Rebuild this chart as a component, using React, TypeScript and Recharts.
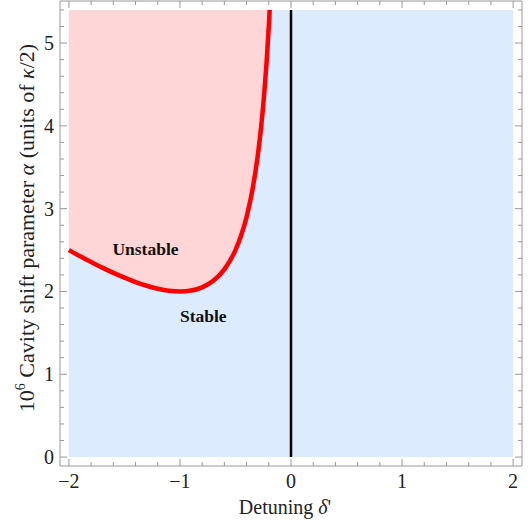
import React from 'react';
import {
    ComposedChart,
    Line,
    Area,
    XAxis,
    YAxis,
    ReferenceArea,
    ReferenceLine,
    ReferenceDot
} from 'recharts';

// detuning values along the stability boundary
const detuning = [
    -2, -1.9, -1.8, -1.7, -1.6, -1.5, -1.4, -1.3, -1.2, -1.1, -1.0,
    -0.9, -0.8, -0.7, -0.6, -0.5, -0.45, -0.4, -0.35, -0.3, -0.27,
    -0.24, -0.22, -0.2, -0.192
];
// critical cavity shift alpha
const alphaCrit = [
    2.5, 2.426, 2.356, 2.288, 2.225, 2.167, 2.114, 2.069, 2.033, 2.009, 2.0,
    2.011, 2.05, 2.129, 2.267, 2.5, 2.672, 2.9, 3.207, 3.633, 3.974,
    4.407, 4.765, 5.2, 5.4
];
const ALPHA_MAX = 5.4;

const xTicks = [
    -2, -1.8, -1.6, -1.4, -1.2, -1, -0.8, -0.6, -0.4, -0.2, 0,
    0.2, 0.4, 0.6, 0.8, 1, 1.2, 1.4, 1.6, 1.8, 2
];
const yTicks = [
    0, 0.2, 0.4, 0.6, 0.8, 1, 1.2, 1.4, 1.6, 1.8, 2, 2.2, 2.4, 2.6,
    2.8, 3, 3.2, 3.4, 3.6, 3.8, 4, 4.2, 4.4, 4.6, 4.8, 5, 5.2, 5.4
];

const chartData = detuning.map((d, i) => ({
    d,
    alpha: alphaCrit[i],
    band: [alphaCrit[i], ALPHA_MAX]
}));

const FONT = '"Liberation Serif", "DejaVu Serif", serif';
const FRAME = '#999';

const isMajor = (v: number) => Math.abs(v - Math.round(v)) < 1e-6;
const fmt = (v: number) => (v < 0 ? '\u2212' + Math.abs(v) : String(v));

function BottomTick({ x, y, payload }: any) {
    const major = isMajor(payload.value);
    return (
        <g>
            <line x1={x} x2={x} y1={y} y2={y - (major ? 7 : 4)} stroke={FRAME} />
            {major && (
                <text x={x} y={y + 22} textAnchor="middle" fontSize={20} fontFamily={FONT} fill="#222">
                    {fmt(Math.round(payload.value))}
                </text>
            )}
        </g>
    );
}

function TopTick({ x, y, payload }: any) {
    const major = isMajor(payload.value);
    return <line x1={x} x2={x} y1={y} y2={y + (major ? 7 : 4)} stroke={FRAME} />;
}

function LeftTick({ x, y, payload }: any) {
    const major = isMajor(payload.value);
    return (
        <g>
            <line x1={x} x2={x + (major ? 7 : 4)} y1={y} y2={y} stroke={FRAME} />
            {major && (
                <text x={x - 6} y={y + 7} textAnchor="end" fontSize={20} fontFamily={FONT} fill="#222">
                    {fmt(Math.round(payload.value))}
                </text>
            )}
        </g>
    );
}

function RightTick({ x, y, payload }: any) {
    const major = isMajor(payload.value);
    return <line x1={x} x2={x - (major ? 7 : 4)} y1={y} y2={y} stroke={FRAME} />;
}

const yLabel = () => (
    <text transform="rotate(-90)" x={-228} y={34} textAnchor="middle" fontSize={22} fontFamily={FONT} fill="#222">
        <tspan>10</tspan>
        <tspan dy={-9} fontSize={14}>6</tspan>
        <tspan dy={9}> Cavity shift parameter </tspan>
        <tspan fontStyle="italic">α</tspan>
        <tspan> (units of </tspan>
        <tspan fontStyle="italic">κ</tspan>
        <tspan>/2)</tspan>
    </text>
);

const xLabel = () => (
    <text x={285} y={514} textAnchor="middle" fontSize={20} fontFamily={FONT} fill="#222">
        <tspan>Detuning </tspan>
        <tspan fontStyle="italic">δ</tspan>
        <tspan>'</tspan>
    </text>
);

export default function App() {
    return (
        <div style={{ position: 'absolute', left: 0, top: 0, width: 532, height: 524, background: '#fff' }}>
            <ComposedChart
                width={532}
                height={524}
                data={chartData}
                margin={{ top: 0, right: 0, left: 0, bottom: 0 }}
            >
                <XAxis
                    dataKey="d"
                    type="number"
                    domain={[-2.08, 2.08]}
                    allowDataOverflow
                    ticks={xTicks}
                    interval={0}
                    tickSize={0}
                    tickMargin={0}
                    height={58}
                    axisLine={{ stroke: FRAME }}
                    tickLine={false}
                    tick={<BottomTick />}
                    label={{ content: xLabel }}
                />
                <XAxis
                    xAxisId="top"
                    orientation="top"
                    dataKey="d"
                    type="number"
                    domain={[-2.08, 2.08]}
                    allowDataOverflow
                    ticks={xTicks}
                    interval={0}
                    tickSize={0}
                    tickMargin={0}
                    height={1}
                    axisLine={{ stroke: FRAME }}
                    tickLine={false}
                    tick={<TopTick />}
                />
                <YAxis
                    type="number"
                    domain={[-0.108, 5.508]}
                    allowDataOverflow
                    ticks={yTicks}
                    interval={0}
                    tickSize={0}
                    tickMargin={0}
                    width={60}
                    axisLine={{ stroke: FRAME }}
                    tickLine={false}
                    tick={<LeftTick />}
                    label={{ content: yLabel }}
                />
                <YAxis
                    yAxisId="right"
                    orientation="right"
                    type="number"
                    domain={[-0.108, 5.508]}
                    allowDataOverflow
                    ticks={yTicks}
                    interval={0}
                    tickSize={0}
                    tickMargin={0}
                    width={10}
                    axisLine={{ stroke: FRAME }}
                    tickLine={false}
                    tick={<RightTick />}
                />
                <ReferenceArea
                    x1={-2}
                    x2={2}
                    y1={0}
                    y2={ALPHA_MAX}
                    fill="#dcebfd"
                    fillOpacity={1}
                    stroke="none"
                />
                <Area
                    dataKey="band"
                    type="monotone"
                    fill="#ffd6d7"
                    fillOpacity={1}
                    stroke="none"
                    isAnimationActive={false}
                />
                <ReferenceLine
                    segment={[{ x: 0, y: 0 }, { x: 0, y: ALPHA_MAX }]}
                    stroke="#000"
                    strokeWidth={2.5}
                />
                <Line
                    dataKey="alpha"
                    type="monotone"
                    stroke="#ff0000"
                    strokeWidth={4.5}
                    dot={false}
                    isAnimationActive={false}
                />
                <ReferenceDot
                    x={-1.31}
                    y={2.51}
                    r={0}
                    label={{ value: 'Unstable', position: 'center', fontSize: 17.5, fontWeight: 'bold', fontFamily: FONT, fill: '#111' }}
                />
                <ReferenceDot
                    x={-0.79}
                    y={1.71}
                    r={0}
                    label={{ value: 'Stable', position: 'center', fontSize: 17.5, fontWeight: 'bold', fontFamily: FONT, fill: '#111' }}
                />
            </ComposedChart>
        </div>
    );
}
